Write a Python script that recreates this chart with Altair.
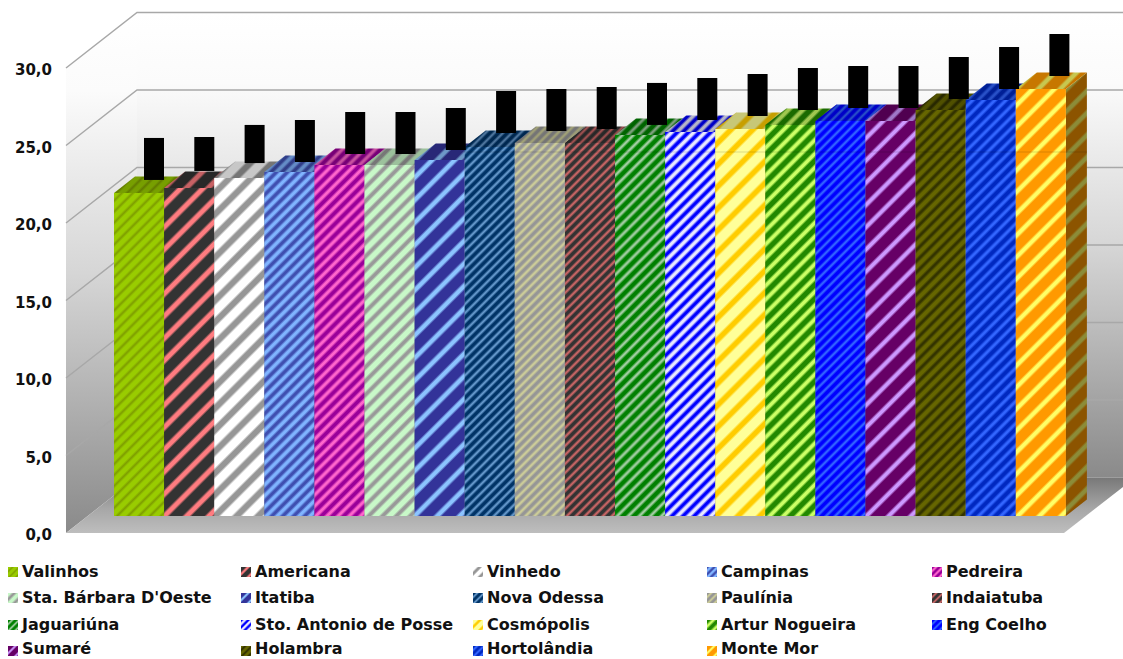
import altair as alt
import pandas as pd

# Municipalities, ordered by value
cities = ["Valinhos", "Americana", "Vinhedo", "Campinas", "Pedreira",
          "Sta. Bárbara D'Oeste", "Itatiba", "Nova Odessa", "Paulínia", "Indaiatuba",
          "Jaguariúna", "Sto. Antonio de Posse", "Cosmópolis", "Artur Nogueira", "Eng Coelho",
          "Sumaré", "Holambra", "Hortolândia", "Monte Mor"]
values = [20.84, 21.16, 21.81, 22.19, 22.65, 22.65, 22.97, 23.81, 24.06, 24.06,
          24.58, 24.77, 24.97, 25.23, 25.48, 25.48, 26.19, 26.84, 27.55]
err_low = [21.68, 22.26, 22.77, 22.84, 23.35, 23.35, 23.61, 24.71, 24.84, 24.97,
           25.23, 25.55, 25.81, 26.19, 26.32, 26.32, 26.90, 27.55, 28.39]
err_high = [24.39, 24.45, 25.23, 25.55, 26.06, 26.06, 26.32, 27.42, 27.55, 27.68,
            27.94, 28.26, 28.52, 28.90, 29.03, 29.03, 29.61, 30.26, 31.10]
tick_values = [0, 5, 10, 15, 20, 25, 30]
tick_labels = ["0,0", "5,0", "10,0", "15,0", "20,0", "25,0", "30,0"]

# Stripe colours, stripe period and stripe share per bar
base_colors = ["#99CC00", "#333333", "#FFFFFF", "#3F4FB0", "#990099", "#C8F8C8", "#333399",
               "#003366", "#969696", "#333333", "#008000", "#0000FF", "#FFFF99", "#228800",
               "#0000FF", "#660066", "#666600", "#0028C0", "#FF9900"]
stripe_colors = ["#7F9F00", "#FF7C80", "#969696", "#80B4FF", "#FF66CC", "#999999", "#8CC4FF",
                 "#6699CC", "#CCCC99", "#CC6666", "#A0CCA0", "#E8E8FF", "#FFCC00", "#CCFF66",
                 "#3366FF", "#CC99FF", "#333300", "#3366FF", "#FFFF66"]
periods = [11, 22, 22, 11, 11, 14, 22, 9, 9, 9, 11, 11, 22, 14, 9, 22, 11, 11, 22]
shares = [0.3, 0.33, 0.42, 0.5, 0.45, 0.42, 0.3, 0.38, 0.42, 0.38, 0.38, 0.5, 0.36, 0.42, 0.38, 0.28, 0.42, 0.42, 0.3]

# Canvas layout: one category is 50.1 px wide, one unit of value is 15.5 px tall
W, H = 1123, 659
STEP, UNIT = 50.1, 15.5
X_ZERO, Y_ZERO = 114, 516


def cx(px):
    return (px - X_ZERO) / STEP


def vy(px):
    return (Y_ZERO - px) / UNIT


x_scale = alt.Scale(domain=[cx(0), cx(W)], nice=False, zero=False)
y_scale = alt.Scale(domain=[vy(H), vy(0)], nice=False, zero=False)
X = alt.X("x:Q", scale=x_scale, axis=None)
Y = alt.Y("y:Q", scale=y_scale, axis=None)

# Bar depth and the depth of the whole box, in scale units
BAR_DX, BAR_DY = 21 / STEP, 16.5 / UNIT
WALL_FRONT_X, WALL_BACK_X, WALL_END_X = cx(66), cx(137), cx(1135)
FRONT_Y, BACK_Y = vy(533), vy(477.5)
FRONT_END_X = cx(1064)
FONT = "DejaVu Sans"


def shade(color, factor):
    r, g, b = (int(color[k:k + 2], 16) for k in (1, 3, 5))
    return "#%02x%02x%02x" % (round(r * factor), round(g * factor), round(b * factor))


def stripes(w, h, period, c1, c2, share):
    """Diagonal 45-degree stripes for a box of w x h pixels as a linear gradient."""
    span = w + h
    n = max(1, round(span / period))
    soft = min(0.3, 3.0 / period)
    stops = []
    for k in range(n):
        for t, c in ((0, c1), (1 - share - soft, c1), (1 - share, c2), (1 - soft, c2)):
            stops.append(alt.GradientStop(offset=min(1, (k + t) / n), color=c))
    stops.append(alt.GradientStop(offset=1, color=c1))
    a = span / (w * w + h * h)
    return alt.LinearGradient(gradient="linear", stops=stops, x1=0, y1=0, x2=a * w, y2=a * h)


def vertical_fill(colors):
    stops = [alt.GradientStop(offset=o, color=c) for o, c in colors]
    return alt.LinearGradient(gradient="linear", stops=stops, x1=0, y1=0, x2=0, y2=1)


layers = []

# Back wall, left wall and floor
wall_stops = [(0, "#FFFFFF"), (0.15, "#FBFBFB"), (0.5, "#D6D6D6"), (0.65, "#C0C0C0"), (1, "#8A8A8A")]
layers.append(alt.Chart(pd.DataFrame({"x": [WALL_BACK_X], "x2": [WALL_END_X],
                                      "y": [BACK_Y], "y2": [BACK_Y + 30]}))
              .mark_rect(color=vertical_fill(wall_stops), clip=True)
              .encode(x=X, x2="x2:Q", y=Y, y2="y2:Q"))
left = pd.DataFrame({"x": [WALL_FRONT_X, WALL_BACK_X], "y": [FRONT_Y, BACK_Y],
                     "y2": [FRONT_Y + 30, BACK_Y + 30]})
layers.append(alt.Chart(left)
              .mark_area(color=vertical_fill(wall_stops), orient="vertical")
              .encode(x=X, y=Y, y2="y2:Q"))
floor = pd.DataFrame({"y": [FRONT_Y, BACK_Y], "x": [WALL_FRONT_X, WALL_BACK_X],
                      "x2": [FRONT_END_X, WALL_END_X]})
floor_fill = vertical_fill([(0, "#787878"), (0.55, "#A6A6A6"), (1, "#BEBEBE")])
layers.append(alt.Chart(floor)
              .mark_area(color=floor_fill, orient="horizontal", clip=True)
              .encode(x=X, x2="x2:Q", y=Y))

# Gridlines: along the left wall, then across the back wall
for v in tick_values[1:]:
    grid = pd.DataFrame({"x": [WALL_FRONT_X, WALL_BACK_X, WALL_END_X],
                         "y": [FRONT_Y + v, BACK_Y + v, BACK_Y + v]})
    layers.append(alt.Chart(grid)
                  .mark_line(color="#A8A8A8", strokeWidth=1.5, clip=True)
                  .encode(x=alt.X("x:Q", scale=x_scale, axis=None), y=Y))

# Bars: front, side and top faces painted from left to right
for i, v in enumerate(values):
    a, b, p, s = base_colors[i], stripe_colors[i], periods[i], shares[i]
    h_px = v * UNIT
    side = pd.DataFrame({"x": [i + 1, i + 1 + BAR_DX], "y": [0, BAR_DY], "y2": [v, v + BAR_DY]})
    layers.append(alt.Chart(side)
                  .mark_area(color=stripes(21, h_px + 16.5, p, shade(a, 0.55), shade(b, 0.55), s),
                             orient="vertical")
                  .encode(x=X, y=Y, y2="y2:Q"))
    top = pd.DataFrame({"y": [v, v + BAR_DY], "x": [i, i + BAR_DX], "x2": [i + 1, i + 1 + BAR_DX]})
    layers.append(alt.Chart(top)
                  .mark_area(color=stripes(STEP + 21, 16.5, p, shade(a, 0.78), shade(b, 0.78), s),
                             orient="horizontal")
                  .encode(x=X, x2="x2:Q", y=Y))
    front = pd.DataFrame({"x": [i], "x2": [i + 1], "y": [0], "y2": [v]})
    layers.append(alt.Chart(front)
                  .mark_rect(color=stripes(STEP, h_px, p, a, b, s))
                  .encode(x=X, x2="x2:Q", y=Y, y2="y2:Q"))

# Faint seam running across the taller bars
seam = pd.DataFrame({"x": [cx(464)], "x2": [cx(1087)], "y": [vy(152)]})
layers.append(alt.Chart(seam).mark_rule(color="#000000", opacity=0.14, strokeWidth=1)
              .encode(x=X, x2="x2:Q", y=Y))

# Black error blocks floating above each bar
ERR_START, ERR_STEP, ERR_WIDTH = cx(144), 50.3 / STEP, 20 / STEP
err = pd.DataFrame({"x": [ERR_START + i * ERR_STEP for i in range(len(cities))],
                    "y": err_low, "y2": err_high})
err["x2"] = err["x"] + ERR_WIDTH
layers.append(alt.Chart(err).mark_rect(color="#000000")
              .encode(x=X, x2="x2:Q", y=Y, y2="y2:Q"))

# Value labels at the front edge of the left wall
ticks = pd.DataFrame({"x": [cx(52)] * len(tick_values),
                      "y": [FRONT_Y + v for v in tick_values], "label": tick_labels})
layers.append(alt.Chart(ticks)
              .mark_text(font=FONT, fontWeight="bold", fontSize=15, align="right",
                         baseline="middle", dy=2, color="#111111")
              .encode(x=X, y=Y, text="label:N"))

# Legend: five columns, four rows, filled row by row
col_px = [8, 241, 473, 707, 932]
row_px = [572, 598, 625, 651]
text_row_px = [572, 598, 625, 649]
SWATCH = 10
legend_rows = []
for i, name in enumerate(cities):
    c, r = col_px[i % 5], row_px[i // 5]
    legend_rows.append({"x": cx(c + 14), "y": vy(text_row_px[i // 5]), "label": name})
    sw = pd.DataFrame({"x": [cx(c)], "x2": [cx(c + SWATCH)],
                       "y": [vy(r + SWATCH / 2)], "y2": [vy(r - SWATCH / 2)]})
    layers.append(alt.Chart(sw)
                  .mark_rect(color=stripes(SWATCH, SWATCH, max(7, periods[i] * 0.6),
                                           base_colors[i], stripe_colors[i], shares[i]))
                  .encode(x=X, x2="x2:Q", y=Y, y2="y2:Q"))
layers.append(alt.Chart(pd.DataFrame(legend_rows))
              .mark_text(font=FONT, fontWeight="bold", fontSize=16, align="left",
                         baseline="middle", color="#111111")
              .encode(x=X, y=Y, text="label:N"))

chart = (alt.layer(*layers)
         .properties(width=W, height=H, padding=0, background="#FFFFFF",
                     autosize=alt.AutoSizeParams(type="none"))
         .configure_view(stroke=None))

chart.save("out.html", embed_options={"renderer": "svg", "actions": False})
